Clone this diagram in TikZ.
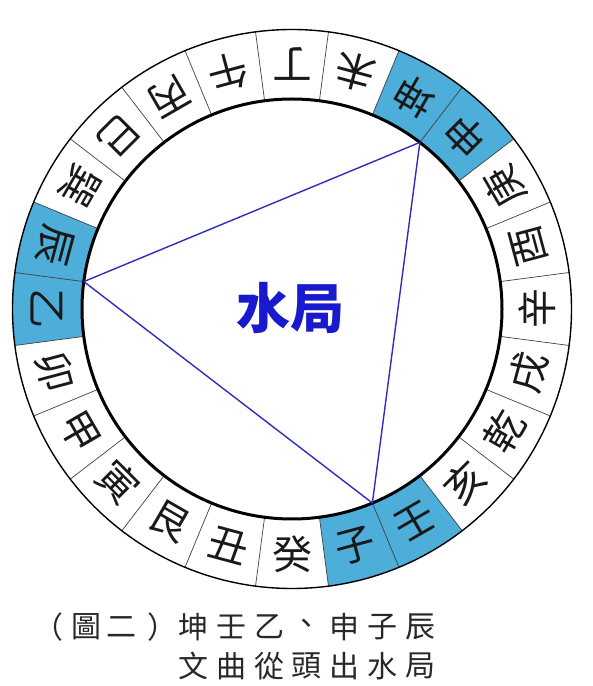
\documentclass[tikz,border=0pt]{standalone}
\usepackage{fontspec}
\newfontfamily\cjk{Noto Sans CJK TC}
\definecolor{ringblue}{RGB}{78,174,218}
\definecolor{triblue}{RGB}{45,45,190}
\definecolor{titleblue}{RGB}{25,25,205}
\definecolor{captgray}{RGB}{40,40,40}
\tikzset{
  divider/.style={line width=0.7pt, draw=black!75},
  ringchar/.style={font=\cjk\fontsize{40}{40}\selectfont, inner sep=0pt, text=black!90},
  captchar/.style={font=\cjk\fontsize{30}{30}\selectfont, inner sep=0pt, text=captgray},
  triline/.style={draw=triblue, line width=1.4pt, line join=round},
}
\begin{document}
\begin{tikzpicture}[x=1pt,y=1pt]
\useasboundingbox (0,0) rectangle (593,686);
\begin{scope}[shift={(292,377)}]
  % blue sectors
  \foreach \a in {37.5,157.5,277.5}{
    \fill[ringblue] (\a:210) arc[start angle=\a, end angle=\a+30, radius=210]
      -- ({\a+30}:279.5) arc[start angle=\a+30, end angle=\a, radius=279.5] -- cycle;
  }
  % dividers
  \foreach \k in {0,...,23}{
    \draw[divider] ({7.5+15*\k}:210) -- ({7.5+15*\k}:279.5);
  }
  % circles
  \draw[line width=1.4pt] (0,0) circle[radius=279.5];
  \draw[line width=3pt] (0,0) circle[radius=210];
  % ring characters
  \foreach \ch [count=\i from 0] in {辛,酉,庚,申,坤,未,丁,午,丙,巳,巽,辰,乙,卯,甲,寅,艮,丑,癸,子,壬,亥,乾,戌}{
    \node[ringchar, rotate={15*\i+90}] (m\i) at ({15*\i}:245) {\ch};
  }
  % triangle
  \coordinate (vA) at (52.5:210);
  \coordinate (vB) at (172.5:210);
  \coordinate (vC) at (292.5:210);
  \draw[triline] (vA) -- (vB) -- (vC) -- cycle;
\end{scope}
\node[font=\cjk\bfseries\fontsize{54}{54}\selectfont, text=titleblue, inner sep=0pt] (title) at (290,378) {水局};
% caption line 1
\node[captchar] (pl) at (48,59) {（};
\node[captchar] (pt1) at (86.5,59) {圖};
\node[captchar] (pt2) at (121,59) {二};
\node[captchar] (pr) at (162,59) {）};
\foreach \c [count=\i from 0] in {坤,壬,乙,、,申,子,辰}{
  \node[captchar] (ca\i) at ({193.5+37.8*\i},59) {\c};
}
\foreach \c [count=\i from 0] in {文,曲,從,頭,出,水,局}{
  \node[captchar] (cb\i) at ({193.5+37.8*\i},20) {\c};
}
\end{tikzpicture}
\end{document}
